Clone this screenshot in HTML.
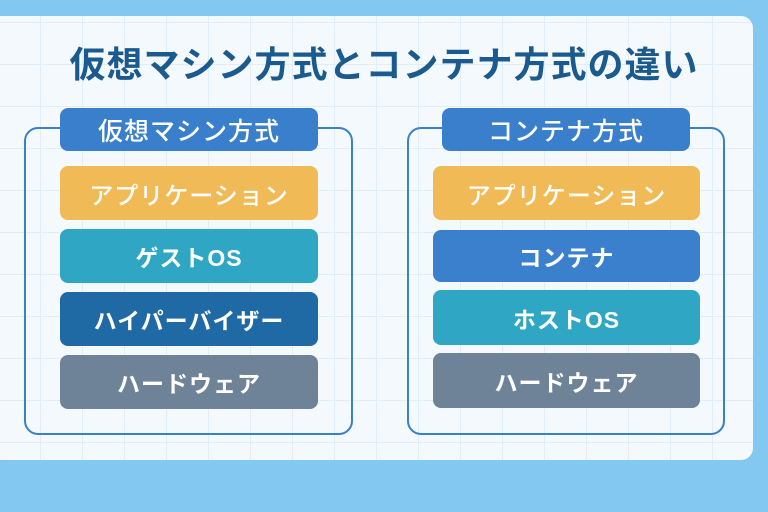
<!DOCTYPE html>
<html><head><meta charset="utf-8"><style>
*{margin:0;padding:0;box-sizing:border-box}
body{width:768px;height:512px;background:#82c8f1;position:relative;overflow:hidden;font-family:"Liberation Sans","Noto Sans CJK JP",sans-serif}
.card{position:absolute;left:-10px;top:16px;width:763px;height:444px;border-radius:12px;background-color:#f4f9fd;
background-image:linear-gradient(#e1edf7 1px,transparent 1px),linear-gradient(90deg,#e1edf7 1px,transparent 1px);background-size:42px 42px;background-position:8px 6px}
h1{position:absolute;left:0;width:768px;top:36px;text-align:center;font-size:36px;font-weight:bold;color:#1b5a8e;letter-spacing:1px}
.panel{position:absolute;border:2.5px solid #3a80c8;border-radius:14px;top:127px;height:308px}
.b{position:absolute;border-radius:8px;color:#fff;font-weight:bold;font-size:23px;display:flex;align-items:center;justify-content:center;letter-spacing:1px}
.m{font-weight:500;font-size:24px}
</style></head><body>
<div class="card"></div>
<h1>仮想マシン方式とコンテナ方式の違い</h1>
<div class="panel" style="left:24px;width:329px"></div>
<div class="panel" style="left:407px;width:318px"></div>
<div class="b m" style="left:60px;top:108px;width:258px;height:43px;background:#3a7fcc;font-size:25px">仮想マシン方式</div>
<div class="b m" style="left:60px;top:166px;width:258px;height:54px;background:#f0bb57">アプリケーション</div>
<div class="b" style="left:60px;top:229px;width:258px;height:54px;background:#2fa7c4">ゲストOS</div>
<div class="b" style="left:60px;top:292px;width:258px;height:54px;background:#1f69a4">ハイパーバイザー</div>
<div class="b" style="left:60px;top:355px;width:258px;height:54px;background:#6e8298">ハードウェア</div>
<div class="b m" style="left:442px;top:108px;width:248px;height:43px;background:#3a7fcc;font-size:25px">コンテナ方式</div>
<div class="b m" style="left:433px;top:166px;width:267px;height:54px;background:#f0bb57">アプリケーション</div>
<div class="b" style="left:433px;top:230px;width:267px;height:52px;background:#3a80cc">コンテナ</div>
<div class="b" style="left:433px;top:290px;width:267px;height:55px;background:#2fa7c4">ホストOS</div>
<div class="b" style="left:433px;top:353px;width:267px;height:55px;background:#6e8298">ハードウェア</div>
</body></html>
